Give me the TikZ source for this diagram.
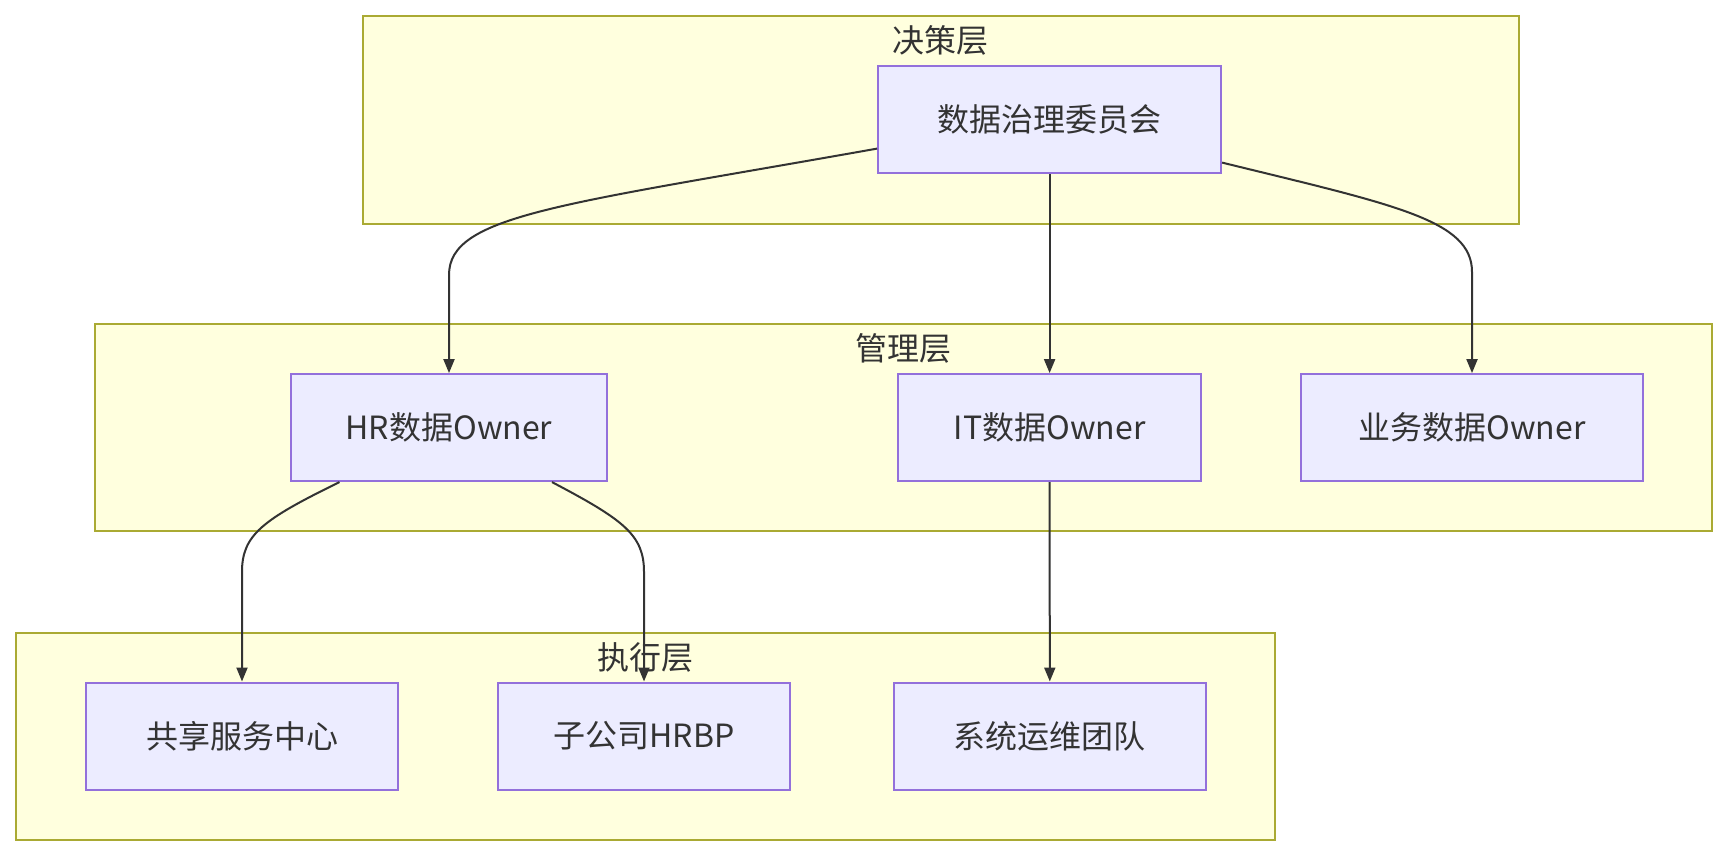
\documentclass[tikz,border=0pt]{standalone}
\usepackage{fontspec}
\setmainfont{Noto Sans CJK SC}
\usetikzlibrary{arrows.meta,calc}
\definecolor{clfill}{HTML}{FFFFDE}
\definecolor{cldraw}{HTML}{AAAA33}
\definecolor{ndfill}{HTML}{ECECFF}
\definecolor{nddraw}{HTML}{9370DB}
\definecolor{txt}{HTML}{333333}
\begin{document}
\begin{tikzpicture}[x=1pt,y=-1pt,
  cluster/.style={draw=cldraw,fill=clfill,line width=2pt,inner sep=0pt,minimum height=207pt},
  ctitle/.style={text=txt,font=\fontsize{32}{38}\selectfont,inner sep=0pt},
  box/.style={draw=nddraw,fill=ndfill,line width=2pt,inner sep=0pt,minimum height=107pt,text=txt,font=\fontsize{32}{38}\selectfont},
  edge/.style={draw=txt,line width=2pt,-{Triangle[length=14pt,width=11pt]}}]
\useasboundingbox[fill=white] (0,0) rectangle (1728,856);
% clusters
\node[cluster,minimum width=1156pt,minimum height=208pt] (ctop) at (940.6,119.6) {};
\node[cluster,minimum width=1617.7pt] (cmid) at (903.6,427.5) {};
\node[cluster,minimum width=1258.5pt] (cbot) at (645.7,736.1) {};
\node[ctitle] (ttop) at (940.6,40) {决策层};
\node[ctitle] (tmid) at (903.6,348) {管理层};
\node[ctitle] (tbot) at (645.7,657) {执行层};
% nodes
\node[box,minimum width=343pt] (com) at (1049.6,119.6) {数据治理委员会};
\node[box,minimum width=316pt] (hr) at (449,427.6) {HR数据Owner};
\node[box,minimum width=303pt] (it) at (1049.6,427.6) {IT数据Owner};
\node[box,minimum width=341.5pt] (biz) at (1472,427.6) {业务数据Owner};
\node[box,minimum width=312pt] (share) at (242,736) {共享服务中心};
\node[box,minimum width=292pt] (hrbp) at (644,736) {子公司HRBP};
\node[box,minimum width=311.6pt] (sys) at (1049.8,736) {系统运维团队};
% edges
\draw[edge] ($(com.west)+(0,29)$) .. controls (560,205) and (hr.north |- 0,215) .. (hr.north |- 0,275) -- (hr.north);
\draw[edge] (com.south) -- (it.north);
\draw[edge] ($(com.east)+(0,43)$) .. controls (1395,205) and (biz.north |- 0,220) .. (biz.north |- 0,272) -- (biz.north);
\draw[edge] ($(hr.south west)+(49.5,0)$) .. controls (262,520) and (share.north |- 0,535) .. (share.north |- 0,572) -- (share.north);
\draw[edge] ($(hr.south east)+(-56,0)$) .. controls (624,520) and (hrbp.north |- 0,535) .. (hrbp.north |- 0,572) -- (hrbp.north);
\draw[edge] (it.south) -- (sys.north);
\end{tikzpicture}
\end{document}
